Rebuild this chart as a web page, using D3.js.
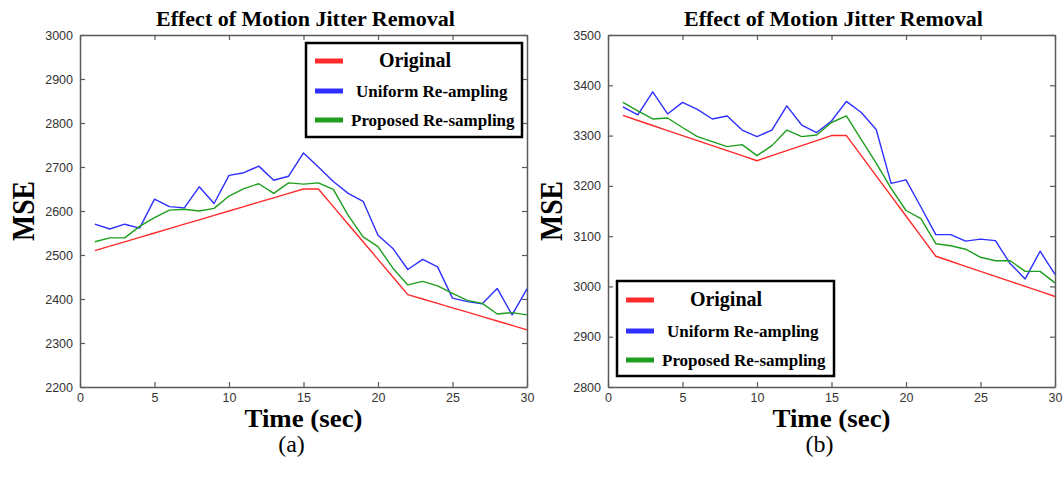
<!DOCTYPE html>
<html>
<head>
<meta charset="utf-8">
<script src="https://cdn.jsdelivr.net/npm/d3@7"></script>
<style>
  html, body { margin: 0; padding: 0; background: #fff; }
  svg { display: block; }
</style>
</head>
<body>
<svg id="chart" width="1063" height="479"></svg>
<script>
// ---------- DATA ----------
const timeSec = [1,2,3,4,5,6,7,8,9,10,11,12,13,14,15,16,17,18,19,20,21,22,23,24,25,26,27,28,29,30];
const xTicks = [0, 5, 10, 15, 20, 25, 30];

const leftOriginal = [2510,2520,2530,2540,2550,2560,2570,2580,2590,2600,2610,2620,2630,2640,2650,2650,2610,2570,2530,2490,2450,2410,2400,2390,2380,2370,2360,2350,2340,2330];
const leftUniform  = [2570,2559,2570,2561,2627,2610,2607,2655,2617,2681,2687,2702,2670,2679,2732,2700,2667,2640,2622,2545,2515,2467,2490,2473,2402,2394,2389,2424,2364,2423];
const leftProposed = [2530,2539,2539,2565,2585,2602,2604,2600,2606,2634,2651,2662,2640,2664,2661,2664,2649,2590,2541,2519,2470,2432,2440,2430,2413,2397,2390,2366,2369,2364];
const leftYTicks = [2200,2300,2400,2500,2600,2700,2800,2900,3000];

const rightOriginal = [3340,3330,3320,3310,3300,3290,3280,3270,3260,3250,3260,3270,3280,3290,3300,3300,3260,3220,3180,3140,3100,3060,3050,3040,3030,3020,3010,3000,2990,2980];
const rightUniform  = [3357,3341,3387,3343,3366,3352,3333,3339,3311,3298,3311,3359,3321,3306,3329,3368,3346,3312,3205,3212,3158,3103,3103,3090,3094,3091,3045,3015,3070,3024];
const rightProposed = [3366,3349,3333,3335,3316,3298,3288,3278,3282,3260,3280,3311,3298,3301,3326,3339,3292,3245,3195,3151,3135,3085,3081,3074,3058,3051,3051,3030,3030,3007];
const rightYTicks = [2800,2900,3000,3100,3200,3300,3400,3500];

const seriesNames = ["Original", "Uniform Re-ampling", "Proposed Re-sampling"];
const seriesColors = ["#ff2a2a", "#2f2fff", "#1e9e1e"];
const titleText = "Effect of Motion Jitter Removal";
const xLabel = "Time (sec)";
const yLabel = "MSE";
const panelLabels = ["(a)", "(b)"];

// ---------- DRAW ----------
const svg = d3.select("#chart");
const serif = "'Liberation Serif', 'Times New Roman', serif";
const sans = "'Liberation Sans', Arial, sans-serif";

function drawPanel(opt) {
  const x = d3.scaleLinear().domain([0, 30]).range([opt.x0, opt.x1]);
  const y = d3.scaleLinear().domain(opt.yDomain).range([opt.y1, opt.y0]);
  const g = svg.append("g");
  const axisColor = "#5a5a5a";
  const fmt = d3.format("d");

  // axes (ticks inward)
  const bottom = g.append("g").attr("transform", `translate(0,${opt.y1})`)
    .call(d3.axisBottom(x).tickValues(xTicks).tickFormat(fmt).tickSizeInner(-5).tickSizeOuter(0).tickPadding(6));
  const top = g.append("g").attr("transform", `translate(0,${opt.y0})`)
    .call(d3.axisTop(x).tickValues(xTicks).tickSizeInner(-5).tickSizeOuter(0).tickFormat(""));
  const left = g.append("g").attr("transform", `translate(${opt.x0},0)`)
    .call(d3.axisLeft(y).tickValues(opt.yTicks).tickFormat(fmt).tickSizeInner(-5).tickSizeOuter(0).tickPadding(7));
  const right = g.append("g").attr("transform", `translate(${opt.x1},0)`)
    .call(d3.axisRight(y).tickValues(opt.yTicks).tickSizeInner(-5).tickSizeOuter(0).tickFormat(""));
  [bottom, top, left, right].forEach(a => {
    a.selectAll(".domain").attr("stroke", axisColor).attr("stroke-width", 1.5);
    a.selectAll(".tick line").attr("stroke", axisColor).attr("stroke-width", 1.2);
    a.selectAll("text").attr("fill", "#333").style("font-family", sans).style("font-size", "12.5px");
  });

  // lines
  const line = d3.line().x((d, i) => x(timeSec[i])).y(d => y(d));
  [opt.original, opt.uniform, opt.proposed].forEach((s, k) => {
    g.append("path").datum(s).attr("d", line)
      .attr("fill", "none").attr("stroke", seriesColors[k]).attr("stroke-width", 1.4)
      .attr("stroke-linejoin", "round");
  });

  // title
  const cx = (opt.x0 + opt.x1) / 2;
  g.append("text").attr("x", cx + 2).attr("y", 26).attr("text-anchor", "middle")
    .style("font-family", serif).style("font-weight", "bold").style("font-size", "22px")
    .text(titleText);

  // x label
  g.append("text").attr("x", cx).attr("y", 427).attr("text-anchor", "middle")
    .attr("textLength", 118).attr("lengthAdjust", "spacingAndGlyphs")
    .style("font-family", serif).style("font-weight", "bold").style("font-size", "26px")
    .text(xLabel);

  // y label
  const ly = (opt.y0 + opt.y1) / 2;
  g.append("text").attr("transform", `translate(${opt.x0 - 46},${ly}) rotate(-90)`)
    .attr("text-anchor", "middle")
    .attr("textLength", 60).attr("lengthAdjust", "spacingAndGlyphs")
    .style("font-family", serif).style("font-weight", "bold").style("font-size", "32px")
    .text(yLabel);

  // panel label
  g.append("text").attr("x", cx - 12).attr("y", 452).attr("text-anchor", "middle")
    .style("font-family", serif).style("font-size", "24px")
    .text(opt.panel);

  // legend
  const L = opt.legend;
  g.append("rect").attr("x", L.x).attr("y", L.y).attr("width", L.w).attr("height", L.h)
    .attr("fill", "#fff").attr("stroke", "#000").attr("stroke-width", 2.5);
  const rows = [
    {dy: L.rowY[0], size: 20, cxOff: 109},
    {dy: L.rowY[1], size: 17, cxOff: null},
    {dy: L.rowY[2], size: 17, cxOff: null}
  ];
  rows.forEach((r, k) => {
    g.append("line").attr("x1", L.x + 9).attr("x2", L.x + 37)
      .attr("y1", L.y + r.dy).attr("y2", L.y + r.dy)
      .attr("stroke", seriesColors[k]).attr("stroke-width", 5);
    const t = g.append("text").attr("y", L.y + r.dy + 6)
      .style("font-family", serif).style("font-weight", "bold").style("font-size", r.size + "px")
      .text(seriesNames[k]);
    if (k === 0) t.attr("x", L.x + r.cxOff).attr("text-anchor", "middle");
    else if (k === 1) t.attr("x", L.x + 50);
    else t.attr("x", L.x + 45);
  });
}

drawPanel({
  x0: 80, x1: 527, y0: 35, y1: 387,
  yDomain: [2200, 3000], yTicks: leftYTicks,
  original: leftOriginal, uniform: leftUniform, proposed: leftProposed,
  panel: panelLabels[0],
  legend: {x: 306, y: 43, w: 216, h: 94, rowY: [18, 48, 77]}
});
drawPanel({
  x0: 608, x1: 1055, y0: 35, y1: 387,
  yDomain: [2800, 3500], yTicks: rightYTicks,
  original: rightOriginal, uniform: rightUniform, proposed: rightProposed,
  panel: panelLabels[1],
  legend: {x: 617, y: 281, w: 217, h: 95, rowY: [19, 50, 79]}
});
</script>
</body>
</html>
